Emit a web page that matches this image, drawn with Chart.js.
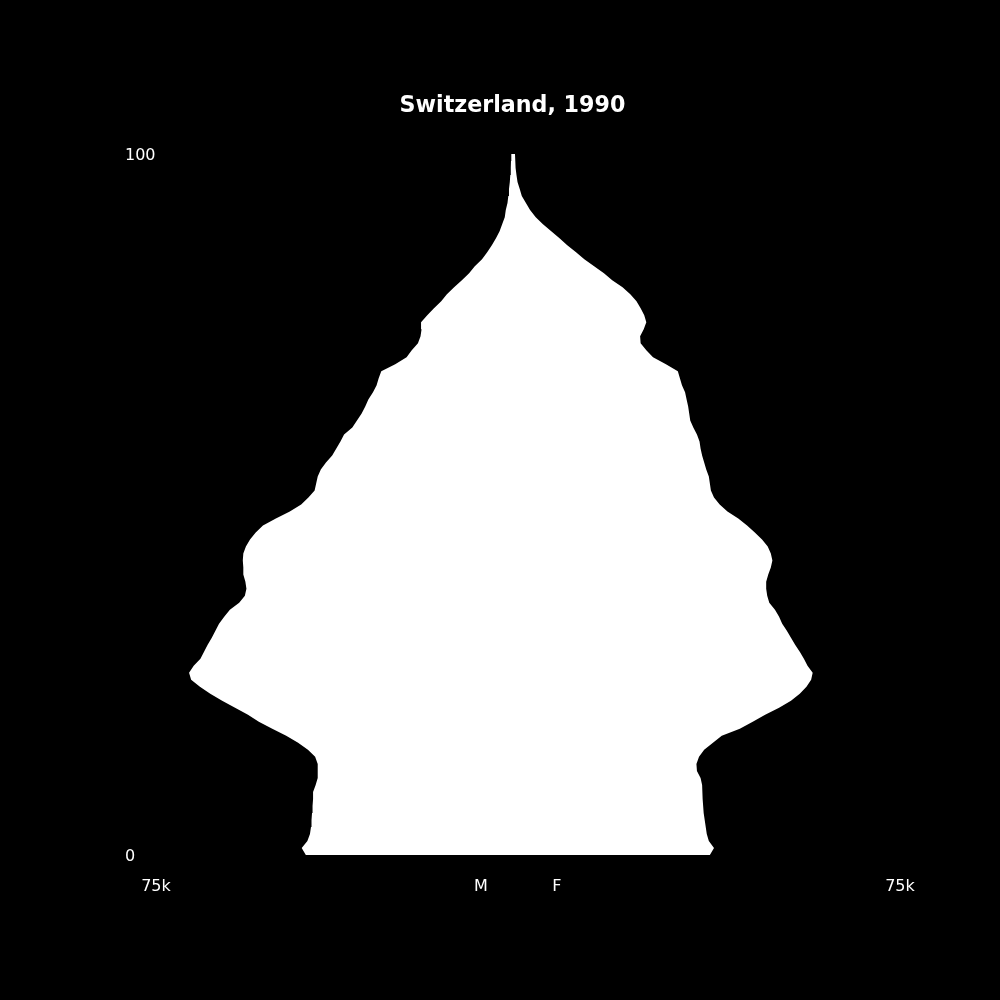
<!DOCTYPE html>
<html>
<head>
<meta charset="utf-8">
<script src="https://cdn.jsdelivr.net/npm/chart.js@4.4.1/dist/chart.umd.min.js"></script>
<style>
  html, body { margin: 0; padding: 0; background: #000; }
  canvas { display: block; background: #000; }
</style>
</head>
<body>
<canvas id="pyramid" width="1000" height="1000"></canvas>
<script>
// ages 0..100
var ages = [];
for (var i = 0; i <= 100; i++) ages.push(i);

// thousands
var males = [
  40.0, 40.8, 39.7, 39.2, 39.0, 38.9, 38.8, 38.7, 38.6, 38.6,
  38.1, 37.7, 37.7, 37.7, 38.2, 39.6, 41.5, 43.8, 46.5, 49.1,
  51.2, 53.7, 56.2, 58.5, 60.5, 62.2, 62.6, 61.7, 60.4, 59.7,
  59.0, 58.2, 57.5, 56.8, 55.8, 54.7, 52.9, 51.8, 51.5, 51.7,
  52.1, 52.1, 52.2, 52.1, 51.6, 50.8, 49.7, 48.3, 45.8, 43.1,
  40.9, 39.5, 38.3, 38.0, 37.7, 37.1, 36.1, 34.9, 34.1, 33.3,
  32.6, 31.0, 30.1, 29.2, 28.5, 27.9, 27.0, 26.3, 25.9, 25.4,
  22.7, 20.5, 19.5, 18.3, 17.8, 17.6, 17.7, 16.5, 15.2, 13.8,
  12.7, 11.3, 9.8, 8.4, 7.3, 5.9, 4.9, 4.0, 3.2, 2.5,
  2.0, 1.5, 1.3, 0.97, 0.81, 0.68, 0.52, 0.43, 0.33, 0.29,
  0.23
];
var females = [
  38.2, 39.0, 38.0, 37.6, 37.4, 37.2, 37.0, 36.9, 36.8, 36.8,
  36.7, 36.4, 35.7, 35.6, 36.1, 37.1, 38.8, 40.5, 44.0, 46.5,
  48.9, 51.6, 53.9, 55.6, 56.9, 57.8, 58.1, 57.1, 56.4, 55.6,
  54.7, 53.9, 53.1, 52.2, 51.6, 50.8, 49.7, 49.3, 49.1, 49.1,
  49.5, 50.0, 50.3, 50.0, 49.4, 48.3, 46.9, 45.4, 43.7, 41.6,
  40.1, 39.0, 38.4, 38.2, 38.0, 37.5, 37.1, 36.7, 36.4, 36.2,
  35.7, 35.0, 34.4, 34.2, 34.0, 33.7, 33.4, 32.8, 32.4, 32.0,
  29.7, 27.2, 25.9, 24.8, 24.7, 25.4, 25.9, 25.5, 24.8, 24.0,
  22.8, 21.3, 19.3, 17.7, 15.8, 13.9, 12.3, 10.6, 9.1, 7.5,
  5.9, 4.5, 3.4, 2.6, 1.8, 1.4, 0.97, 0.77, 0.6, 0.54,
  0.48
];

var xTickValues = [-69, -6.1, 8.6, 75];
var xTickLabels = ["75k", "M", "F", "75k"];
var yTickValues = [0, 100];
var yTickLabels = ["0", "100"];

var title = "Switzerland, 1990";

var malePoints = ages.map(function (a, i) { return {x: -males[i], y: a}; });
var femalePoints = ages.map(function (a, i) { return {x: females[i], y: a}; });

var tickFont = {family: "DejaVu Sans", size: 16};

var config = {
  type: "line",
  data: {
    datasets: [
      {label: "M", data: malePoints, fill: "+1", backgroundColor: "#ffffff",
       borderColor: "rgba(0,0,0,0)", borderWidth: 0, pointRadius: 0, tension: 0},
      {label: "F", data: femalePoints, fill: false, backgroundColor: "#ffffff",
       borderColor: "rgba(0,0,0,0)", borderWidth: 0, pointRadius: 0, tension: 0}
    ]
  },
  options: {
    indexAxis: "y",
    responsive: false,
    animation: false,
    devicePixelRatio: 1,
    layout: {padding: {top: 93, left: 125, right: 100, bottom: 81.8}},
    plugins: {
      legend: {display: false},
      tooltip: {enabled: false},
      title: {
        display: true, text: title, color: "#ffffff",
        font: {family: "DejaVu Sans", size: 22.2, weight: "bold"},
        padding: {top: 0, bottom: 34.4}
      }
    },
    scales: {
      x: {
        type: "linear", min: -75, max: 75,
        grid: {display: false, drawTicks: false},
        border: {display: false},
        afterBuildTicks: function (axis) {
          axis.ticks = xTickValues.map(function (v) { return {value: v}; });
        },
        ticks: {
          color: "#ffffff", font: tickFont, padding: 22, maxRotation: 0, autoSkip: false,
          callback: function (v, i) { return xTickLabels[i]; }
        }
      },
      y: {
        type: "linear", min: 0, max: 100, position: "left",
        grid: {display: false, drawTicks: false},
        border: {display: false},
        afterBuildTicks: function (axis) {
          axis.ticks = yTickValues.map(function (v) { return {value: v}; });
        },
        ticks: {
          color: "#ffffff", font: tickFont, mirror: true, padding: 0, labelOffset: 2,
          autoSkip: false,
          callback: function (v, i) { return yTickLabels[i]; }
        }
      }
    }
  }
};

new Chart(document.getElementById("pyramid"), config);
</script>
</body>
</html>
